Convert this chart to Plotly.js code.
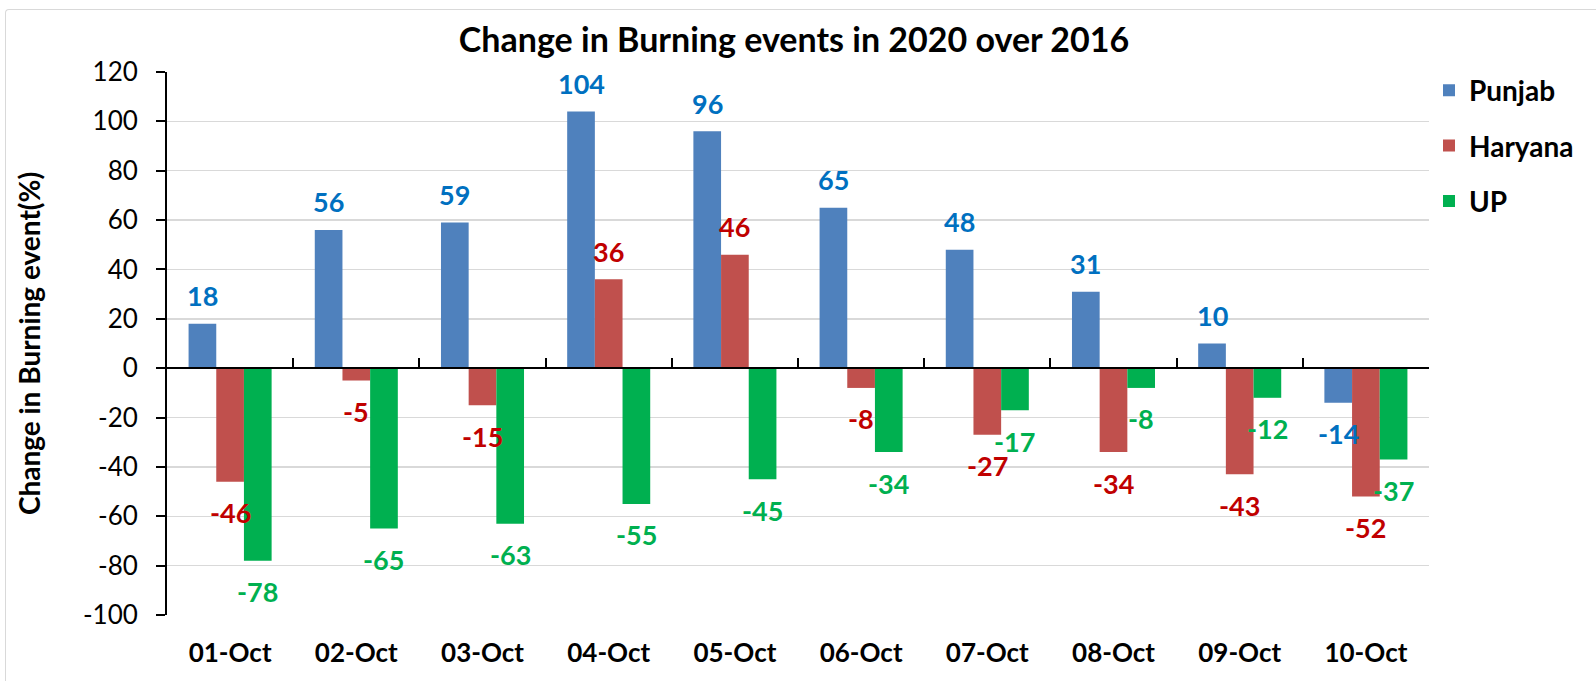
<!DOCTYPE html>
<html>
<head>
<meta charset="utf-8">
<script src="https://cdn.plot.ly/plotly-3.0.1.min.js"></script>
<style>
  html, body { margin: 0; padding: 0; background: #fff; }
  #wrap { position: relative; width: 1596px; height: 681px; overflow: hidden; }
  #chart { position: absolute; left: 0; top: 0; width: 1596px; height: 681px; }
  #frame { position: absolute; left: 5px; top: 9px; width: 1620px; height: 700px;
           border-left: 1.5px solid #D9D9D9; border-top: 1.5px solid #D9D9D9;
           border-radius: 4px 0 0 0; pointer-events: none; }
</style>
</head>
<body>
<div id="wrap"><div id="chart"></div><div id="frame"></div></div>
<script>
// ---- data ----
const categories = ["01-Oct","02-Oct","03-Oct","04-Oct","05-Oct","06-Oct","07-Oct","08-Oct","09-Oct","10-Oct"];
const punjab  = [18, 56, 59, 104, 96, 65, 48, 31, 10, -14];
const haryana = [-46, -5, -15, 36, 46, -8, -27, -34, -43, -52];
const up      = [-78, -65, -63, -55, -45, -34, -17, -8, -12, -37];
const seriesNames = ["Punjab", "Haryana", "UP"];
const yTicks = [-100, -80, -60, -40, -20, 0, 20, 40, 60, 80, 100, 120];

// ---- style ----
const barColors   = ["#4F81BD", "#C0504D", "#00B050"];
const labelColors = ["#0070C0", "#C00000", "#00B050"];
const FONT = "Lato, 'Open Sans', sans-serif";
const W = 1596, H = 681;
const M = {l: 167, r: 167, t: 72, b: 66};
const yRange = [-100, 120];
const bargap = 0.342;

const series = [punjab, haryana, up];
const traces = series.map((vals, i) => ({
  type: "bar",
  name: seriesNames[i],
  x: categories,
  y: vals,
  marker: {color: barColors[i], line: {width: 0}},
  legendgroup: "g" + i,
  hoverinfo: "x+y+name"
}));

// data labels via annotations, offset per series by bar width
const plotW = W - M.l - M.r;
const slot = plotW / categories.length;
const barW = slot * (1 - bargap) / series.length;
const annotations = [];
series.forEach((vals, i) => {
  vals.forEach((v, j) => {
    annotations.push({
      x: categories[j], y: v, xref: "x", yref: "y",
      text: String(v), showarrow: false,
      xshift: (i - (series.length - 1) / 2) * barW,
      yshift: v >= 0 ? 28 : -31,
      font: {family: FONT, size: 27, color: labelColors[i], weight: 700}
    });
  });
});

const n = categories.length;
const boundaries = Array.from({length: n + 1}, (_, k) => k - 0.5);

const layout = {
  width: W, height: H,
  margin: M,
  paper_bgcolor: "#fff", plot_bgcolor: "#fff",
  font: {family: FONT, color: "#000"},
  title: {
    text: "<b>Change in Burning events in 2020 over 2016</b>",
    font: {family: FONT, size: 34, color: "#000"},
    x: 794 / W, xanchor: "center", y: 1 - 40 / H, yanchor: "middle"
  },
  barmode: "group",
  bargap: bargap, bargroupgap: 0,
  showlegend: true,
  legend: {
    x: 1.0, xanchor: "left", y: 1.012, yanchor: "top",
    font: {family: FONT, size: 28, color: "#000", weight: 700},
    traceorder: "grouped", tracegroupgap: 16,
    bgcolor: "rgba(0,0,0,0)"
  },
  xaxis: {
    type: "category",
    categoryorder: "array", categoryarray: categories,
    range: [-0.5, n - 0.5],
    showline: false, showgrid: false, zeroline: false,
    ticks: "", ticklabelstandoff: 20,
    tickfont: {family: FONT, size: 26, color: "#000", weight: 700},
    fixedrange: true
  },
  xaxis2: {
    overlaying: "x", anchor: "free",
    position: (0 - yRange[0]) / (yRange[1] - yRange[0]),
    type: "linear", range: [-0.5, n - 0.5],
    showline: true, linecolor: "#000", linewidth: 2,
    ticks: "inside", ticklen: 9, tickwidth: 2, tickcolor: "#000",
    tickmode: "array", tickvals: boundaries,
    showticklabels: false, showgrid: false, zeroline: false,
    fixedrange: true
  },
  yaxis: {
    range: yRange,
    tickmode: "array", tickvals: yTicks, ticktext: yTicks.map(String),
    showline: true, linecolor: "#000", linewidth: 2,
    ticks: "outside", ticklen: 9, tickwidth: 2, tickcolor: "#000",
    ticklabelstandoff: 13,
    tickfont: {family: FONT, size: 26, color: "#000"},
    showgrid: true, gridcolor: "#D9D9D9", gridwidth: 1.5,
    zeroline: false,
    title: {
      text: "<b>Change in Burning event(%)</b>",
      font: {family: FONT, size: 28, color: "#000"},
      standoff: 34
    },
    fixedrange: true
  },
  annotations: annotations
};

// invisible helper trace so the zero-line axis (xaxis2) is drawn
traces.push({type: "scatter", x: [0], y: [0], xaxis: "x2", yaxis: "y",
  mode: "markers", marker: {opacity: 0}, showlegend: false, hoverinfo: "skip"});

Plotly.newPlot("chart", traces, layout, {displayModeBar: false, staticPlot: true});
</script>
</body>
</html>
